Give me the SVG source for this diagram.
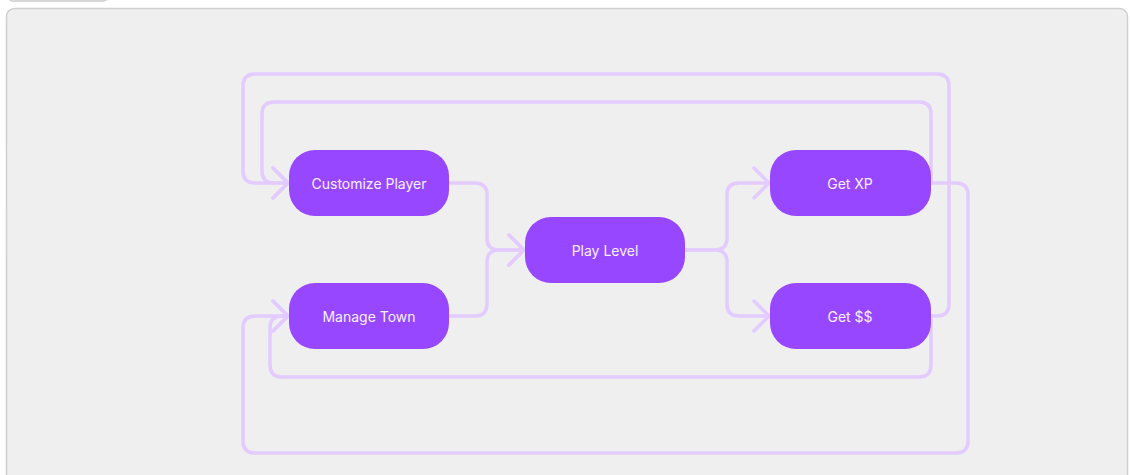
<svg xmlns="http://www.w3.org/2000/svg" width="1130" height="475" viewBox="0 0 1130 475">
  <style>
    .node rect { fill: #9747FF; }
    .node text { fill: #F7F0FF; font-family: Inter, "Liberation Sans", sans-serif; font-size: 14px; font-weight: 400; text-anchor: middle; dominant-baseline: central; }
    .conn { fill: none; stroke: #E3CBFF; stroke-width: 3.5; stroke-linecap: round; stroke-linejoin: round; }
  </style>
  <defs>
    <marker id="arr" viewBox="-20 -20 40 40" markerWidth="40" markerHeight="40" markerUnits="userSpaceOnUse" refX="0" refY="0" orient="auto">
      <path d="M-15,-15 L0,0 L-15,15" fill="none" stroke="#E3CBFF" stroke-width="3.5" stroke-linecap="round" stroke-linejoin="round"/>
    </marker>
  </defs>
  <rect x="0" y="0" width="1130" height="475" fill="#ffffff"/>
  <rect x="8.5" y="-20" width="99" height="21" rx="4" fill="#ffffff" stroke="#cccccc" stroke-width="1.5"/>
  <rect x="6.5" y="8.5" width="1121" height="480" rx="8" fill="#efefef" stroke="#cfcfcf" stroke-width="1.5"/>
  <g id="connectors">
    <path class="conn" marker-end="url(#arr)" d="M449,183 H475 Q487,183 487,195 V238 Q487,250 499,250 H524"/>
    <path class="conn" marker-end="url(#arr)" d="M449,316 H475 Q487,316 487,304 V262 Q487,250 499,250 H524"/>
    <path class="conn" marker-end="url(#arr)" d="M685,250 H715 Q727,250 727,238 V195 Q727,183 739,183 H769"/>
    <path class="conn" marker-end="url(#arr)" d="M685,250 H715 Q727,250 727,262 V304 Q727,316 739,316 H769"/>
    <path class="conn" marker-end="url(#arr)" d="M931,183 H956 Q968,183 968,195 V441 Q968,453 956,453 H255 Q243,453 243,441 V328 Q243,316 255,316 H288"/>
    <path class="conn" marker-end="url(#arr)" d="M931,183 V114 Q931,102 919,102 H274 Q262,102 262,114 V171 Q262,183 274,183 H288"/>
    <path class="conn" marker-end="url(#arr)" d="M931,316 H937 Q949,316 949,304 V86 Q949,74 937,74 H255 Q243,74 243,86 V171 Q243,183 255,183 H288"/>
    <path class="conn" marker-end="url(#arr)" d="M931,316 V365 Q931,377 919,377 H282 Q270,377 270,365 V328 Q270,316 282,316 H288"/>
  </g>
  <g id="customize-player" class="node">
    <rect x="289" y="150" width="160" height="66" rx="26"/>
    <text x="369" y="183">Customize Player</text>
  </g>
  <g id="manage-town" class="node">
    <rect x="289" y="283" width="160" height="66" rx="26"/>
    <text x="369" y="316">Manage Town</text>
  </g>
  <g id="play-level" class="node">
    <rect x="525" y="217" width="160" height="66" rx="26"/>
    <text x="605" y="250">Play Level</text>
  </g>
  <g id="get-xp" class="node">
    <rect x="770" y="150" width="161" height="66" rx="26"/>
    <text x="850" y="183">Get XP</text>
  </g>
  <g id="get-money" class="node">
    <rect x="770" y="283" width="161" height="66" rx="26"/>
    <text x="850" y="316">Get $$</text>
  </g>
</svg>
